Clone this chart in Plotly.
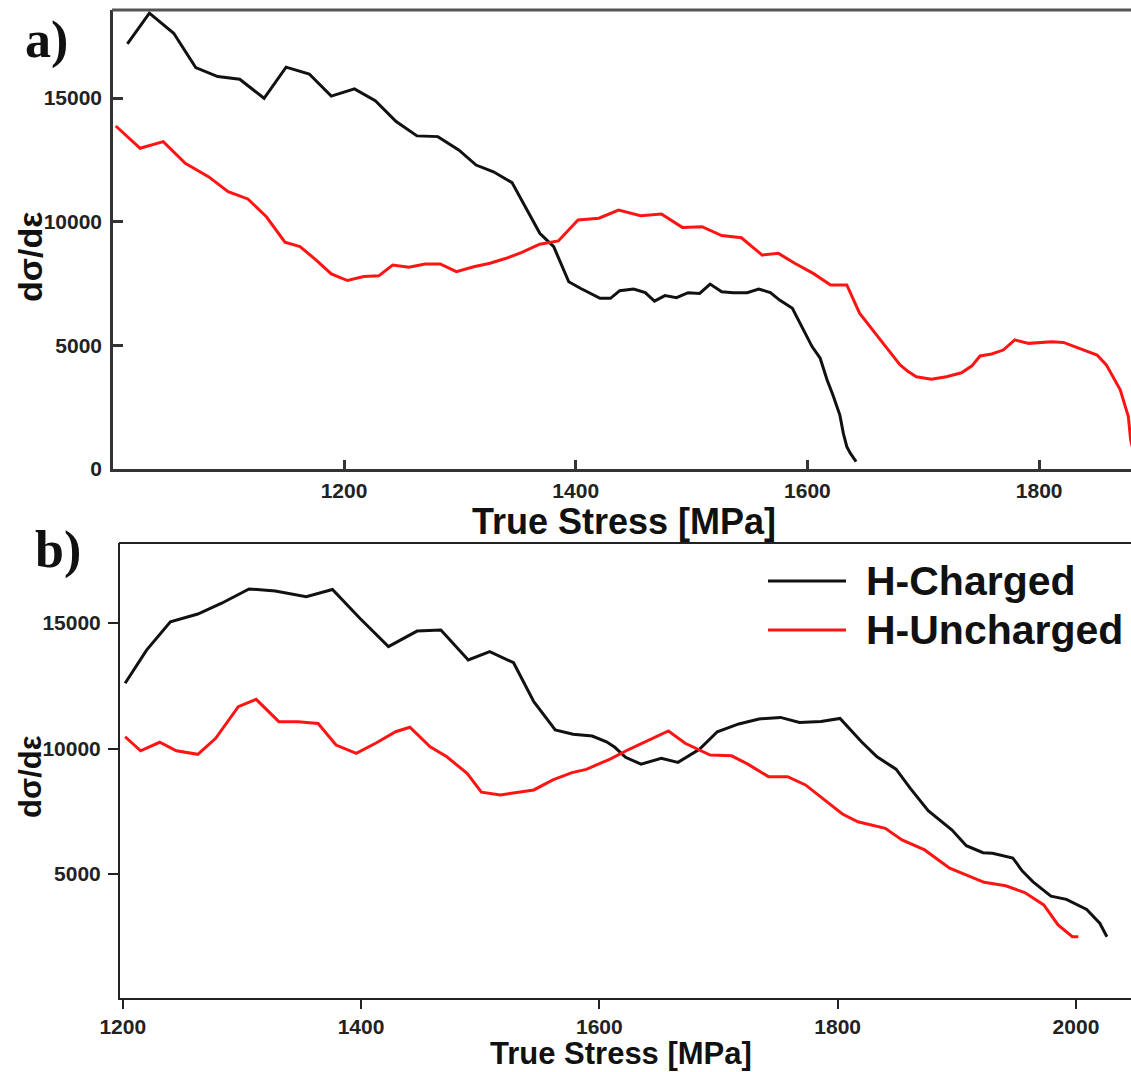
import plotly.graph_objects as go

# ---------------- data ----------------
# (a) strain-hardening rate vs true stress
stress_a_charged = [1013, 1032, 1053, 1072, 1091, 1110, 1131, 1150, 1170, 1189,
                    1209, 1227, 1245, 1263, 1281, 1299, 1314, 1329, 1345, 1358,
                    1369, 1381, 1388, 1394, 1404, 1412, 1421, 1430, 1438, 1450,
                    1460, 1468, 1477, 1487, 1497, 1507, 1516, 1526, 1536, 1548,
                    1558, 1568, 1576, 1587, 1595, 1604, 1611, 1617, 1622, 1628,
                    1631, 1634, 1637, 1642]
slope_a_charged = [17190, 18430, 17620, 16230, 15870, 15760, 14990, 16250, 15970, 15080,
                   15370, 14890, 14050, 13470, 13440, 12900, 12290, 12020, 11580, 10470,
                   9530, 8990, 8250, 7570, 7310, 7130, 6900, 6900, 7210, 7280,
                   7130, 6790, 7010, 6930, 7130, 7100, 7480, 7170, 7130, 7130,
                   7280, 7130, 6830, 6500, 5760, 4950, 4480, 3600, 2990, 2180,
                   1440, 900, 640, 300]

stress_a_uncharged = [1003, 1024, 1044, 1063, 1083, 1100, 1117, 1133, 1149, 1162,
                      1176, 1189, 1203, 1217, 1230, 1242, 1256, 1270, 1283, 1297,
                      1312, 1326, 1340, 1353, 1369, 1385, 1402, 1420, 1437, 1456,
                      1474, 1492, 1509, 1526, 1543, 1561, 1575, 1589, 1605, 1620,
                      1634, 1645, 1663, 1680, 1687, 1694, 1707, 1720, 1733, 1742,
                      1749, 1759, 1769, 1779, 1791, 1811, 1821, 1835, 1850, 1858,
                      1870, 1877, 1879, 1884]
slope_a_uncharged = [13870, 12970, 13240, 12360, 11820, 11210, 10920, 10200, 9170, 8990,
                     8450, 7890, 7620, 7780, 7810, 8250, 8160, 8290, 8290, 7980,
                     8180, 8320, 8520, 8750, 9090, 9220, 10070, 10140, 10470, 10240,
                     10310, 9770, 9800, 9440, 9350, 8650, 8720, 8320, 7910, 7440,
                     7440, 6300, 5220, 4210, 3940, 3730, 3630, 3730, 3890, 4170,
                     4570, 4650, 4810, 5220, 5080, 5150, 5120, 4880, 4610, 4210,
                     3200, 2120, 1170, 200]

# (b)
stress_b_charged = [1202, 1220, 1240, 1263, 1283, 1306, 1328, 1354, 1376, 1399,
                    1423, 1447, 1467, 1490, 1508, 1528, 1545, 1563, 1578, 1594,
                    1606, 1613, 1622, 1635, 1652, 1666, 1684, 1699, 1717, 1734,
                    1752, 1768, 1786, 1802, 1820, 1833, 1849, 1861, 1876, 1896,
                    1908, 1922, 1930, 1947, 1955, 1964, 1979, 1992, 2009, 2020,
                    2026]
slope_b_charged = [12600, 13920, 15050, 15360, 15790, 16360, 16280, 16050, 16340, 15190,
                   14060, 14680, 14720, 13530, 13860, 13420, 11870, 10740, 10570, 10500,
                   10270, 10050, 9650, 9380, 9610, 9450, 9970, 10670, 10980, 11180,
                   11240, 11040, 11080, 11200, 10270, 9670, 9180, 8410, 7520, 6750,
                   6130, 5850, 5830, 5640, 5120, 4690, 4120, 3990, 3590, 3040,
                   2500]

stress_b_uncharged = [1202, 1215, 1231, 1245, 1263, 1278, 1297, 1312, 1331, 1347,
                      1364, 1379, 1396, 1413, 1429, 1441, 1458, 1472, 1489, 1501,
                      1517, 1531, 1545, 1561, 1577, 1589, 1609, 1625, 1643, 1658,
                      1672, 1681, 1693, 1711, 1725, 1742, 1758, 1773, 1787, 1804,
                      1817, 1840, 1854, 1873, 1894, 1908, 1923, 1941, 1957, 1973,
                      1985, 1997, 2002]
slope_b_uncharged = [10470, 9910, 10250, 9910, 9770, 10410, 11670, 11960, 11070, 11070,
                     11000, 10140, 9810, 10230, 10670, 10850, 10070, 9670, 9010, 8260,
                     8150, 8240, 8350, 8750, 9040, 9170, 9580, 9970, 10370, 10700,
                     10210, 10010, 9740, 9710, 9370, 8880, 8880, 8550, 8020, 7390,
                     7080, 6820, 6360, 5960, 5230, 4960, 4670, 4530, 4260, 3770,
                     2970, 2500, 2500]

series_names = ["H-Charged", "H-Uncharged"]
x_ticks_a = [1200, 1400, 1600, 1800]
x_ticks_b = [1200, 1400, 1600, 1800, 2000]
y_ticks_a = [0, 5000, 10000, 15000]
y_ticks_b = [5000, 10000, 15000]

# ---------------- styling ----------------
W, H = 1131, 1072
BLACK = "#111111"
RED = "#ff1414"
SANS = "Liberation Sans, Arial, sans-serif"
SERIF = "Liberation Serif, Times New Roman, serif"


def px_x(p):
    return p / W


def px_y(p):
    return 1 - p / H


fig = go.Figure()

fig.add_trace(go.Scatter(x=stress_a_charged, y=slope_a_charged, mode="lines",
                         line=dict(color=BLACK, width=3), name=series_names[0],
                         xaxis="x", yaxis="y", showlegend=False))
fig.add_trace(go.Scatter(x=stress_a_uncharged, y=slope_a_uncharged, mode="lines",
                         line=dict(color=RED, width=3), name=series_names[1],
                         xaxis="x", yaxis="y", showlegend=False))
fig.add_trace(go.Scatter(x=stress_b_charged, y=slope_b_charged, mode="lines",
                         line=dict(color=BLACK, width=3), name=series_names[0],
                         xaxis="x2", yaxis="y2", showlegend=False))
fig.add_trace(go.Scatter(x=stress_b_uncharged, y=slope_b_uncharged, mode="lines",
                         line=dict(color=RED, width=3), name=series_names[1],
                         xaxis="x2", yaxis="y2", showlegend=False))

tickfont = dict(family=SANS, size=21, color="#222222", weight="bold")
common = dict(showgrid=False, zeroline=False, tickfont=tickfont,
              automargin=False, tickformat="d")

# panel (a) plot box: x 113..1131 px, y 10..469 px
fig.update_layout(
    xaxis=dict(domain=[px_x(113), 1], range=[1000.6, 1879.3], tickvals=x_ticks_a,
               ticks="inside", ticklen=9, tickwidth=2.5, tickcolor="#333333",
               showline=True, linecolor="#333333", linewidth=2.5,
               ticklabelstandoff=1, anchor="y", **common),
    yaxis=dict(domain=[px_y(469), px_y(10)], range=[0, 18560], tickvals=y_ticks_a,
               ticks="inside", ticklen=10, tickwidth=2.5, tickcolor="#333333",
               showline=True, linecolor="#333333", linewidth=2.5,
               ticklabelstandoff=4, anchor="x", **common),
    # panel (b) plot box: x 120..1131 px, y 543..998 px
    xaxis2=dict(domain=[px_x(120), 1], range=[1197.7, 2046.2], tickvals=x_ticks_b,
                ticks="outside", ticklen=9, tickwidth=2, tickcolor="#222222",
                showline=True, linecolor="#222222", linewidth=2,
                ticklabelstandoff=0, anchor="y2", **common),
    yaxis2=dict(domain=[px_y(998), px_y(543)], range=[60, 18190], tickvals=y_ticks_b,
                ticks="outside", ticklen=10, tickwidth=2, tickcolor="#222222",
                showline=True, linecolor="#222222", linewidth=2,
                ticklabelstandoff=3, anchor="x2", **common),
    width=W, height=H, autosize=False,
    margin=dict(l=0, r=0, t=0, b=0, pad=0),
    paper_bgcolor="white", plot_bgcolor="white",
    showlegend=False,
)

# top frame lines of both panels
fig.add_shape(type="line", xref="paper", yref="paper",
              x0=px_x(112), x1=1, y0=px_y(10), y1=px_y(10),
              line=dict(color="#555555", width=3))
fig.add_shape(type="line", xref="paper", yref="paper",
              x0=px_x(119), x1=1, y0=px_y(543), y1=px_y(543),
              line=dict(color="#222222", width=2))

annotations = []
# axis titles
for cx, cy, size in [(624, 521, 36), (621, 1053, 31)]:
    annotations.append(dict(text="True Stress [MPa]", x=px_x(cx), y=px_y(cy),
                            xref="paper", yref="paper", showarrow=False,
                            xanchor="center", yanchor="middle",
                            font=dict(family=SANS, size=size, color="#111111", weight="bold")))
for cy, size in [(257, 34), (777, 31)]:
    annotations.append(dict(text="dσ/dε", x=px_x(30), y=px_y(cy),
                            xref="paper", yref="paper", showarrow=False, textangle=-90,
                            xanchor="center", yanchor="middle",
                            font=dict(family=SANS, size=size, color="#111111", weight="bold")))
# panel letters
for label, cx, cy in [("a)", 46, 40), ("b)", 58, 550)]:
    annotations.append(dict(text=label, x=px_x(cx), y=px_y(cy),
                            xref="paper", yref="paper", showarrow=False,
                            xanchor="center", yanchor="middle",
                            font=dict(family=SERIF, size=52, color="#111111", weight="bold")))

# legend for panel (b)
legend_rows = [(series_names[0], BLACK, 581), (series_names[1], RED, 630)]
for name, color, cy in legend_rows:
    fig.add_shape(type="line", xref="paper", yref="paper",
                  x0=px_x(768), x1=px_x(846), y0=px_y(cy), y1=px_y(cy),
                  line=dict(color=color, width=3))
    annotations.append(dict(text=name, x=px_x(864), y=px_y(cy),
                            xref="paper", yref="paper", showarrow=False,
                            xanchor="left", yanchor="middle",
                            font=dict(family=SANS, size=41, color="#111111", weight="bold")))

fig.update_layout(annotations=annotations)

fig.write_html("out.html")
